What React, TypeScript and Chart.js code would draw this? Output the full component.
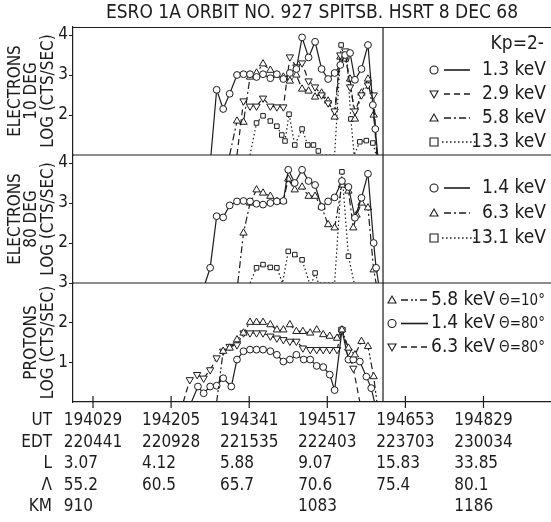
import React, { useEffect, useRef } from 'react';
import { Chart, registerables } from 'chart.js';

Chart.register(...registerables);

const FONT = '"Liberation Sans Narrow", "DejaVu Sans Condensed", "Arial Narrow", sans-serif';
const INK = '#1c1c1c';

const TITLE = 'ESRO 1A ORBIT NO. 927 SPITSB. HSRT 8 DEC 68';

// x values: seconds after 19:40:29 UT
const TICK_S = [0, 96, 192, 288, 384, 480];
const UT = ['194029', '194205', '194341', '194517', '194653', '194829'];
const EDT = ['220441', '220928', '221535', '222403', '223703', '230034'];
const L_SHELL = ['3.07', '4.12', '5.88', '9.07', '15.83', '33.85'];
const LAMBDA = ['55.2', '60.5', '65.7', '70.6', '75.4', '80.1'];
const KM = ['910', '', '', '1083', '', '1186'];
const ROW_HEADS = ['UT', 'EDT', 'L', 'Λ', 'KM'];
const DIVIDER_S = 356.5;
const X_MIN = -24.6;
const X_MAX = 563;

const E10_RANGE = [1.0, 4.2];
const E80_RANGE = [1.0, 4.2];
const P_RANGE = [0, 3];
const E10_TICKS = [2, 3, 4];
const E80_TICKS = [2, 3, 4];
const P_TICKS = [1, 2, 3];

const E10_TITLE = ['ELECTRONS', '10 DEG', 'LOG (CTS/SEC)'];
const E80_TITLE = ['ELECTRONS', '80 DEG', 'LOG (CTS/SEC)'];
const P_TITLE = ['', 'PROTONS', 'LOG (CTS/SEC)'];

// Electrons 10 deg
const E10_13_T = [145, 152, 160, 168, 177, 185, 193, 201, 209, 218, 226, 234, 242, 250, 257, 265, 273, 281, 289, 297, 304, 310, 316, 322, 330, 338, 344, 347, 350];
const E10_13_V = [1.0, 2.63, 2.15, 2.53, 3.0, 3.02, 3.02, 2.95, 3.02, 2.92, 3.02, 2.9, 3.05, 3.15, 3.94, 3.44, 3.83, 3.15, 2.9, 3.05, 3.25, 3.5, 3.55, 2.88, 3.15, 3.75, 2.25, 1.65, 1.0];
const E10_29_T = [177, 185, 193, 201, 209, 218, 226, 234, 242, 250, 257, 265, 273, 281, 289, 297, 304, 310, 316, 322, 330, 338, 345, 349];
const E10_29_V = [1.0, 2.35, 2.22, 2.22, 2.42, 2.22, 2.2, 2.2, 3.45, 3.2, 3.3, 2.85, 2.7, 2.5, 2.3, 2.1, 3.5, 3.6, 2.7, 2.1, 2.5, 2.75, 2.5, 1.0];
const E10_58_T = [168, 177, 185, 193, 201, 209, 218, 226, 234, 242, 250, 257, 265, 273, 281, 289, 297, 304, 310, 316, 322, 330, 338, 345, 349];
const E10_58_V = [1.0, 1.85, 1.82, 2.95, 3.05, 3.28, 3.12, 3.0, 2.95, 2.85, 3.0, 2.65, 2.6, 2.45, 2.55, 2.35, 1.95, 3.45, 3.4, 2.9, 1.9, 2.55, 2.9, 2.0, 1.0];
const E10_133_T = [193, 201, 209, 218, 226, 232, 236, 241, 248, 257, 264, 271, 277, 281, 297, 305, 312, 317, 321, 328, 336, 344, 348];
const E10_133_V = [1.0, 1.8, 1.98, 1.85, 1.72, 1.5, 1.35, 2.02, 1.25, 1.65, 1.25, 1.25, 1.1, 1.0, 1.0, 3.75, 3.45, 1.9, 1.0, 1.33, 1.36, 1.3, 1.0];

// Electrons 80 deg
const E80_14_T = [138, 144, 152, 160, 168, 177, 185, 193, 201, 209, 218, 226, 234, 240, 248, 257, 265, 273, 281, 289, 297, 306, 314, 322, 330, 338, 345, 348, 351];
const E80_14_V = [1.0, 1.38, 2.67, 2.64, 2.94, 3.04, 3.05, 3.04, 2.98, 2.96, 3.0, 3.04, 3.05, 3.83, 3.5, 3.83, 3.55, 3.45, 2.9, 3.04, 3.14, 3.55, 3.4, 2.63, 3.13, 3.73, 2.0, 1.38, 1.0];
const E80_63_T = [178, 185, 193, 201, 209, 218, 226, 234, 240, 248, 257, 265, 273, 281, 289, 297, 306, 314, 320, 324, 330, 338, 345, 348];
const E80_63_V = [1.0, 2.25, 3.0, 3.33, 3.25, 3.17, 3.04, 3.05, 3.6, 3.33, 3.4, 3.17, 3.17, 2.9, 2.46, 2.38, 3.45, 3.3, 2.38, 2.7, 3.0, 2.88, 1.33, 1.0];
const E80_131_T = [193, 201, 209, 218, 226, 233, 240, 248, 257, 266, 269, 273, 277, 297, 306, 314, 321];
const E80_131_V = [1.0, 1.38, 1.46, 1.39, 1.38, 1.0, 1.79, 1.71, 1.58, 1.0, 1.0, 1.25, 1.0, 1.0, 3.78, 1.67, 1.0];

// Protons
const P10_58_T = [152, 160, 168, 177, 185, 193, 201, 209, 218, 226, 234, 242, 250, 258, 267, 275, 283, 291, 300, 306, 314, 322, 330, 338, 345, 349];
const P10_58_V = [0, 1.28, 1.36, 1.57, 1.74, 2.01, 2.01, 2.01, 1.95, 1.82, 1.82, 1.95, 1.78, 1.78, 1.74, 1.82, 1.7, 1.66, 1.61, 1.82, 1.36, 1.19, 1.53, 1.4, 0.64, 0];
const P80_14_T = [121, 129, 136, 144, 152, 160, 170, 177, 185, 193, 201, 209, 218, 226, 234, 242, 250, 259, 267, 275, 283, 291, 297, 306, 314, 320, 328, 336, 342, 346];
const P80_14_V = [0, 0.39, 0.22, 0.39, 0.41, 0.6, 0.39, 1.07, 1.28, 1.32, 1.32, 1.32, 1.28, 1.19, 1.02, 1.07, 1.19, 1.07, 1.07, 0.91, 0.88, 0.69, 0.3, 1.82, 1.07, 1.07, 1.02, 0.64, 0.35, 0];
const P80_63_T = [111, 119, 128, 136, 144, 152, 160, 168, 177, 185, 193, 201, 209, 218, 226, 234, 242, 250, 258, 267, 275, 283, 291, 300, 306, 314, 320, 328];
const P80_63_V = [0, 0.56, 0.69, 0.6, 0.81, 1.11, 1.28, 1.4, 1.44, 1.74, 1.74, 1.74, 1.74, 1.66, 1.61, 1.57, 1.53, 1.53, 1.36, 1.32, 1.32, 1.32, 1.32, 1.32, 1.82, 1.28, 0.85, 0];

// legend texts
const KP_TEXT = 'Kp=2-';
const LEG10_LABELS = ['1.3 keV', '2.9 keV', '5.8 keV', '13.3 keV'];
const LEG80_LABELS = ['1.4 keV', '6.3 keV', '13.1 keV'];
const LEGP_LABELS = ['5.8 keV', '1.4 keV', '6.3 keV'];
const LEGP_ANGLES = ['Θ=10°', 'Θ=80°', 'Θ=80°'];

// styles
type Shape = 'circle' | 'triUp' | 'triDown' | 'rect';
const SOLID: number[] = [];
const DASHED = [6, 4];
const DASHDOT = [7, 3, 2, 3];
const DASHDOTDOT = [7, 3, 2, 2, 2, 3];
const DOTTED = [1.5, 2.5];

const TICK_FONT = 17;
const LEG_FONT = 19;

const mk = (t: number[], v: number[]) => t.map((x, i) => ({ x, y: v[i] }));

function series(label: string, t: number[], v: number[], axis: string, shape: Shape, dash: number[], base: number) {
  const ps = shape === 'circle' ? 'circle' : shape === 'rect' ? 'rect' : 'triangle';
  const r = shape === 'circle' ? 3.4 : shape === 'rect' ? 3.2 : 4.2;
  return {
    label,
    data: mk(t, v),
    xAxisID: 'x',
    yAxisID: axis,
    borderColor: INK,
    borderWidth: 1.2,
    borderDash: dash,
    fill: false,
    tension: 0,
    pointStyle: ps,
    pointRotation: shape === 'triDown' ? 180 : 0,
    pointRadius: (c: any) => (c.raw && c.raw.y <= base + 1e-6 ? 0 : r),
    pointBackgroundColor: '#ffffff',
    pointBorderColor: INK,
    pointBorderWidth: 1,
  };
}

const padAlign = (s: string, ref: string) => {
  const w = (t: string) => [...t].reduce((a, ch) => a + (ch === '.' ? 0.5 : 1), 0);
  const n = Math.max(0, Math.round((w(ref) - w(s)) * 2));
  return s + ' '.repeat(n);
};

const LABEL_LH = 21.5;
const LABEL_PAD = 8;
const X_AXIS_H = 120;

function yAxis(range: number[], ticks: number[], title: string[], weight: number, stackWeight: number) {
  return {
    type: 'linear',
    position: 'left',
    stack: 'panels',
    stackWeight,
    weight,
    min: range[0],
    max: range[1],
    afterBuildTicks: (s: any) => {
      s.ticks = ticks.map((value) => ({ value }));
    },
    afterFit: (s: any) => {
      s.width = 73;
    },
    grid: { display: true, drawOnChartArea: false, drawTicks: true, tickLength: 4, color: INK, lineWidth: 1 },
    border: { display: true, color: INK, width: 1.2 },
    ticks: { padding: 1, color: INK, font: { family: FONT, size: 17 }, callback: (v: any) => String(v) },
    title: {
      display: true,
      text: title,
      color: INK,
      font: { family: FONT, size: 17, lineHeight: 0.97 },
      padding: { top: 7, bottom: 0 },
    },
  };
}

function drawMarker(ctx: CanvasRenderingContext2D, shape: Shape, x: number, y: number, r: number) {
  ctx.save();
  ctx.setLineDash([]);
  ctx.lineWidth = 1.1;
  ctx.strokeStyle = INK;
  ctx.fillStyle = '#fff';
  ctx.beginPath();
  if (shape === 'circle') ctx.arc(x, y, r, 0, Math.PI * 2);
  else if (shape === 'rect') ctx.rect(x - r, y - r, 2 * r, 2 * r);
  else {
    const s = shape === 'triDown' ? -1 : 1;
    ctx.moveTo(x, y - s * r);
    ctx.lineTo(x - r, y + s * r * 0.75);
    ctx.lineTo(x + r, y + s * r * 0.75);
    ctx.closePath();
  }
  ctx.fill();
  ctx.stroke();
  ctx.restore();
}

function drawSeg(ctx: CanvasRenderingContext2D, x1: number, x2: number, y: number, dash: number[]) {
  ctx.save();
  ctx.setLineDash(dash);
  ctx.lineWidth = 1.6;
  ctx.strokeStyle = INK;
  ctx.beginPath();
  ctx.moveTo(x1, y);
  ctx.lineTo(x2, y);
  ctx.stroke();
  ctx.restore();
}

const LEG10_STYLE: { shape: Shape; dash: number[] }[] = [
  { shape: 'circle', dash: SOLID },
  { shape: 'triDown', dash: DASHED },
  { shape: 'triUp', dash: DASHDOT },
  { shape: 'rect', dash: DOTTED },
];
const LEG80_STYLE: { shape: Shape; dash: number[] }[] = [
  { shape: 'circle', dash: SOLID },
  { shape: 'triUp', dash: DASHDOT },
  { shape: 'rect', dash: DOTTED },
];
const LEGP_STYLE: { shape: Shape; dash: number[] }[] = [
  { shape: 'triUp', dash: DASHDOTDOT },
  { shape: 'circle', dash: SOLID },
  { shape: 'triDown', dash: DASHED },
];

const framePlugin = {
  id: 'frame',
  afterDraw(chart: any) {
    const ctx: CanvasRenderingContext2D = chart.ctx;
    const area = chart.chartArea;
    const xs = chart.scales.x;
    const y10 = chart.scales.y10;
    const y80 = chart.scales.y80;
    const yp = chart.scales.yP;
    const D = xs.getPixelForValue(DIVIDER_S);
    const R = area.right;

    ctx.save();
    ctx.strokeStyle = INK;
    ctx.lineWidth = 1.2;
    ctx.setLineDash([]);
    ctx.beginPath();
    [area.top + 0.5, y80.top, yp.top].forEach((y: number) => {
      ctx.moveTo(area.left, y);
      ctx.lineTo(R, y);
    });
    ctx.moveTo(D, area.top);
    ctx.lineTo(D, area.bottom);
    TICK_S.forEach((v) => {
      const px = xs.getPixelForValue(v);
      ctx.moveTo(px, area.bottom - 6);
      ctx.lineTo(px, area.bottom + 6);
    });
    ctx.stroke();

    ctx.fillStyle = INK;
    ctx.textBaseline = 'middle';

    // row headers of the bottom table
    ctx.font = `${TICK_FONT}px ${FONT}`;
    ctx.textAlign = 'right';
    ROW_HEADS.forEach((h, i) => {
      ctx.fillText(h, area.left - 21, area.bottom + LABEL_PAD + LABEL_LH * (i + 0.5));
    });

    // top legend
    ctx.font = `${LEG_FONT}px ${FONT}`;
    ctx.textAlign = 'right';
    ctx.fillText(KP_TEXT, R - 7, y10.top + 17);
    LEG10_LABELS.forEach((lab, i) => {
      const y = y10.top + 43 + 24 * i;
      const st = LEG10_STYLE[i];
      drawMarker(ctx, st.shape, D + 51, y, 4);
      const long = st.dash === DOTTED;
      drawSeg(ctx, D + (long ? 59 : 61), D + (long ? 93 : 87), y, st.dash);
      ctx.fillStyle = INK;
      ctx.font = `${LEG_FONT}px ${FONT}`;
      ctx.textAlign = 'right';
      ctx.fillText(lab, R - 5, y);
    });

    // middle legend
    LEG80_LABELS.forEach((lab, i) => {
      const y = y80.top + 33 + 25 * i;
      const st = LEG80_STYLE[i];
      drawMarker(ctx, st.shape, D + 51, y, 4);
      const long = st.dash === DOTTED;
      drawSeg(ctx, D + (long ? 59 : 61), D + (long ? 93 : 87), y, st.dash);
      ctx.fillStyle = INK;
      ctx.font = `${LEG_FONT}px ${FONT}`;
      ctx.textAlign = 'right';
      ctx.fillText(lab, R - 5, y);
    });

    // bottom legend
    LEGP_LABELS.forEach((lab, i) => {
      const y = yp.top + 17 + 23.5 * i;
      const st = LEGP_STYLE[i];
      drawMarker(ctx, st.shape, D + 9, y, 4);
      drawSeg(ctx, D + 18, D + 45, y, st.dash);
      ctx.fillStyle = INK;
      ctx.textAlign = 'left';
      ctx.font = `${LEG_FONT}px ${FONT}`;
      ctx.fillText(lab, D + 48, y);
      const w = ctx.measureText(lab).width;
      ctx.font = `15px ${FONT}`;
      ctx.fillText(LEGP_ANGLES[i], D + 48 + w + 4, y + 1);
    });
    ctx.restore();
  },
};

export default function App() {
  const ref = useRef<HTMLCanvasElement>(null);

  useEffect(() => {
    if (!ref.current) return;
    const datasets: any[] = [
      series('1.3 keV', E10_13_T, E10_13_V, 'y10', 'circle', SOLID, E10_RANGE[0]),
      series('2.9 keV', E10_29_T, E10_29_V, 'y10', 'triDown', DASHED, E10_RANGE[0]),
      series('5.8 keV', E10_58_T, E10_58_V, 'y10', 'triUp', DASHDOT, E10_RANGE[0]),
      series('13.3 keV', E10_133_T, E10_133_V, 'y10', 'rect', DOTTED, E10_RANGE[0]),
      series('1.4 keV', E80_14_T, E80_14_V, 'y80', 'circle', SOLID, E80_RANGE[0]),
      series('6.3 keV', E80_63_T, E80_63_V, 'y80', 'triUp', DASHDOT, E80_RANGE[0]),
      series('13.1 keV', E80_131_T, E80_131_V, 'y80', 'rect', DOTTED, E80_RANGE[0]),
      series('5.8 keV Θ=10°', P10_58_T, P10_58_V, 'yP', 'triUp', DASHDOTDOT, P_RANGE[0]),
      series('1.4 keV Θ=80°', P80_14_T, P80_14_V, 'yP', 'circle', SOLID, P_RANGE[0]),
      series('6.3 keV Θ=80°', P80_63_T, P80_63_V, 'yP', 'triDown', DASHED, P_RANGE[0]),
    ];

    const chart = new Chart(ref.current, {
      type: 'line',
      data: { datasets },
      plugins: [framePlugin],
      options: {
        animation: false,
        responsive: false,
        events: [],
        layout: { padding: 0 },
        plugins: {
          legend: { display: false },
          tooltip: { enabled: false },
          title: {
            display: true,
            text: TITLE,
            fullSize: false,
            color: INK,
            font: { family: FONT, size: 19, weight: 'normal', lineHeight: 1 },
            padding: { top: 4, bottom: 4 },
          },
        },
        scales: {
          x: {
            type: 'linear',
            position: 'bottom',
            min: X_MIN,
            max: X_MAX,
            afterBuildTicks: (s: any) => {
              s.ticks = TICK_S.map((value) => ({ value }));
            },
            afterFit: (s: any) => {
              s.height = X_AXIS_H;
            },
            grid: { display: false, drawTicks: false, tickLength: 0 },
            border: { display: true, color: INK, width: 1.2 },
            ticks: {
              autoSkip: false,
              maxRotation: 0,
              minRotation: 0,
              padding: LABEL_PAD,
              color: INK,
              font: { family: FONT, size: TICK_FONT, lineHeight: LABEL_LH / TICK_FONT },
              callback: (_v: any, i: number) => {
                const ref0 = UT[i];
                return [UT[i], EDT[i], L_SHELL[i], LAMBDA[i], KM[i]].map((s) => (s ? padAlign(s, ref0) : ''));
              },
            },
          },
          yP: yAxis(P_RANGE, P_TICKS, P_TITLE, 1, 119),
          y80: yAxis(E80_RANGE, E80_TICKS, E80_TITLE, 2, 128),
          y10: yAxis(E10_RANGE, E10_TICKS, E10_TITLE, 3, 128),
        } as any,
      } as any,
    });
    return () => chart.destroy();
  }, []);

  return (
    <div style={{ position: 'absolute', left: 0, top: 0, width: 551, height: 522, background: '#fff' }}>
      <canvas ref={ref} width={551} height={522} style={{ display: 'block' }} />
    </div>
  );
}
